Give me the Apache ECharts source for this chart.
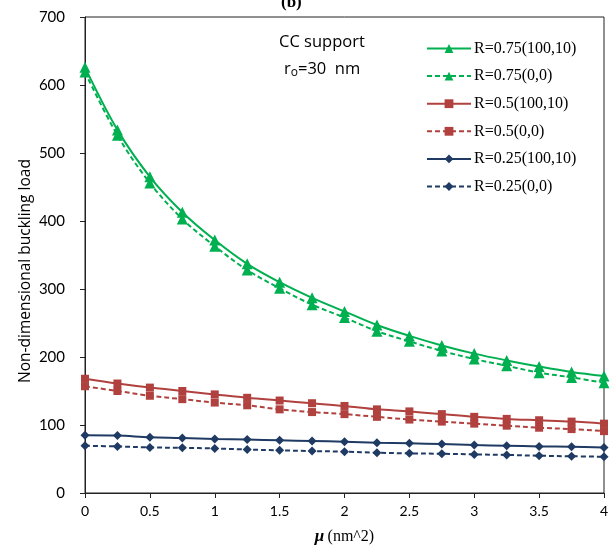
<!DOCTYPE html>
<html>
<head>
<meta charset="utf-8">
<script src="https://cdn.jsdelivr.net/npm/echarts@6/dist/echarts.min.js"></script>
<style>html,body{margin:0;padding:0;background:#fff}#c{width:612px;height:548px}</style>
</head>
<body>
<div id="c"></div>
<script>
const mu = [0, 0.25, 0.5, 0.75, 1, 1.25, 1.5, 1.75, 2, 2.25, 2.5, 2.75, 3, 3.25, 3.5, 3.75, 4];
const r075_100_10 = [626, 534, 465, 413, 372, 337, 310, 287, 267, 247, 231, 217, 205, 195, 186, 178, 172];
const r075_0_0    = [619, 526, 456, 403, 363, 328, 301, 277, 258, 238, 223, 209, 197, 187, 177, 170, 162];
const r05_100_10  = [168, 161, 155, 150, 145, 140, 136, 132, 128, 123, 120, 116, 112, 109, 107, 105, 102];
const r05_0_0     = [157, 150, 143, 138, 133, 129, 123, 119, 116, 112, 108, 105, 102, 99, 96, 94, 91];
const r025_100_10 = [85, 84.5, 82, 81, 79.5, 78.5, 77.5, 76.5, 75.5, 74, 73, 72, 70.5, 69.5, 68.5, 68, 67];
const r025_0_0    = [69.5, 68.5, 67, 66.5, 65.5, 64, 62.7, 61.7, 60.8, 59.2, 58.3, 57.7, 56.8, 56, 54.8, 54, 53.3];
const seriesNames = ['R=0.75(100,10)', 'R=0.75(0,0)', 'R=0.5(100,10)', 'R=0.5(0,0)', 'R=0.25(100,10)', 'R=0.25(0,0)'];
const xTicks = [0, 0.5, 1, 1.5, 2, 2.5, 3, 3.5, 4];
const yTicks = [0, 100, 200, 300, 400, 500, 600, 700];

const green = '#00B050', red = '#B0413E', blue = '#1F3A63';
const pair = ys => mu.map((x, i) => [x, ys[i]]);
function mk(name, ys, color, symbol, size, dashed) {
  return {
    name, type: 'line', data: pair(ys), smooth: 0.35,
    symbol, symbolSize: size,
    lineStyle: { color, width: 2, type: dashed ? [5, 3] : 'solid' },
    itemStyle: { color },
    emphasis: { disabled: true }
  };
}
const chart = echarts.init(document.getElementById('c'));
chart.setOption({
  animation: false,
  backgroundColor: '#fff',
  grid: { left: 85, right: 8, top: 17, bottom: 55, show: true, borderColor: '#222', borderWidth: 1,
    containLabel: false, outerBoundsMode: 'none' },
  title: {
    text: '(b)', left: 276, top: -11,
    textStyle: { fontFamily: 'Liberation Serif', fontWeight: 'bold', fontSize: 17, color: '#000' }
  },
  legend: {
    orient: 'vertical', left: 421, top: 35,
    itemWidth: 44, itemHeight: 11, itemGap: 10.6,
    data: seriesNames,
    textStyle: { fontFamily: 'Liberation Serif', fontSize: 16, color: '#000', padding: [0, 0, 0, -2], lineHeight: 17 }
  },
  xAxis: {
    type: 'value', min: 0, max: 4, interval: 0.5,
    axisLine: { lineStyle: { color: '#222', width: 1 } },
    axisTick: { show: true, length: 5, lineStyle: { color: '#222' } },
    splitLine: { show: false },
    axisLabel: { margin: 11, fontFamily: 'Lato', fontSize: 14, color: '#000',
      formatter: v => xTicks.includes(v) ? String(v) : '' },
    name: '{m|μ} {u|(nm^2)}', nameLocation: 'middle', nameGap: 35,
    nameTextStyle: { rich: {
      m: { fontFamily: 'Liberation Serif', fontWeight: 'bold', fontStyle: 'italic', fontSize: 17, color: '#000' },
      u: { fontFamily: 'Liberation Serif', fontSize: 16, color: '#000' }
    } }
  },
  yAxis: {
    type: 'value', min: 0, max: 700, interval: 100,
    axisLine: { show: true, lineStyle: { color: '#222', width: 1 } },
    axisTick: { show: true, length: 5, lineStyle: { color: '#222' } },
    splitLine: { show: false },
    axisLabel: { margin: 20, fontFamily: 'Lato', fontSize: 15, color: '#000',
      formatter: v => yTicks.includes(v) ? String(v) : '' }
  },
  graphic: [{
    type: 'text', x: 26, y: 271, rotation: Math.PI / 2,
    style: { text: 'Non-dimensional buckling load', fontFamily: 'Open Sans', fontSize: 15.5, fill: '#000',
      align: 'center', verticalAlign: 'middle' }
  }, {
    type: 'text', left: 279, top: 34,
    style: { text: 'CC support', fontFamily: 'Open Sans', fontSize: 16.5, fill: '#000' }
  }, {
    type: 'text', left: 284, top: 61,
    style: {
      text: '{a|r}{s|o}{a|=30  nm}',
      rich: {
        a: { fontFamily: 'Open Sans', fontSize: 16.5, fill: '#000' },
        s: { fontFamily: 'Open Sans', fontSize: 12, fill: '#000', verticalAlign: 'bottom', padding: [6, 0, 0, 0] }
      }
    }
  }],
  series: [
    mk(seriesNames[0], r075_100_10, green, 'triangle', 11, false),
    mk(seriesNames[1], r075_0_0, green, 'triangle', 11, true),
    mk(seriesNames[2], r05_100_10, red, 'rect', 8, false),
    mk(seriesNames[3], r05_0_0, red, 'rect', 8, true),
    mk(seriesNames[4], r025_100_10, blue, 'diamond', 9, false),
    mk(seriesNames[5], r025_0_0, blue, 'diamond', 9, true)
  ]
});
</script>
</body>
</html>
